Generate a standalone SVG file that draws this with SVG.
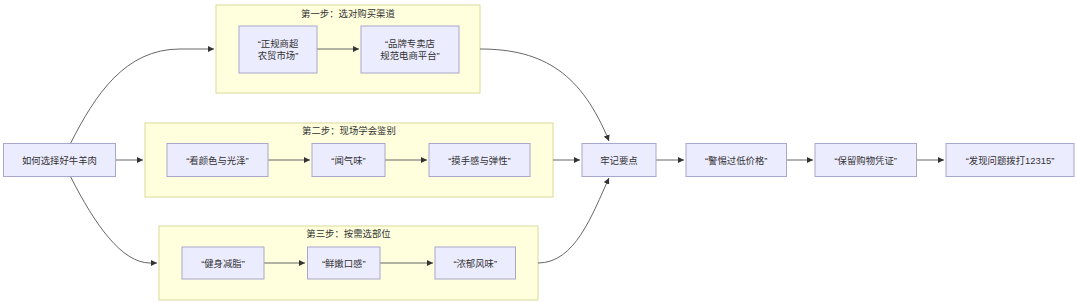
<svg xmlns="http://www.w3.org/2000/svg" width="1078" height="303" viewBox="0 0 1078 303">
<style>
.bg{fill:#ffffff}
.cl rect{fill:#ffffde;stroke:#d9d99a;stroke-width:1}
.nd rect{fill:#ececff;stroke:#a8a8cc;stroke-width:1}
text{font-family:"Liberation Sans","Noto Sans CJK SC",sans-serif;font-size:9.4px;fill:#333;text-anchor:middle;dominant-baseline:central}
.ed path{fill:none;stroke:#555;stroke-width:0.9;marker-end:url(#ah)}
</style>
<defs>
<marker id="ah" viewBox="0 0 10 10" refX="10" refY="5" markerWidth="6" markerHeight="6" markerUnits="userSpaceOnUse" orient="auto">
<path d="M0,0 L10,5 L0,10 z" fill="#333"/>
</marker>
</defs>
<rect class="bg" x="0" y="0" width="1078" height="303"/>
<g id="cluster1" class="cl"><rect x="216" y="5" width="264" height="88"/><text x="348" y="13">第一步：选对购买渠道</text></g>
<g id="cluster2" class="cl"><rect x="145" y="123" width="408" height="74"/><text x="349" y="130">第二步：现场学会鉴别</text></g>
<g id="cluster3" class="cl"><rect x="159" y="226" width="379" height="74"/><text x="348.5" y="233">第三步：按需选部位</text></g>
<g id="edges" class="ed">
<path d="M70.5,143.5 C95,95 125,49 180,49 L214,49"/>
<path d="M116,160 L143,160"/>
<path d="M70.5,176.5 C95,225 122,263 150,263 L157,263"/>
<path d="M317,49 L359,49"/>
<path d="M480,49 C545,49 582,75 609,141"/>
<path d="M268,160 L310,160"/>
<path d="M385,160 L427,160"/>
<path d="M264,263 L305,263"/>
<path d="M380,263 L433,263"/>
<path d="M553,160 L580,160"/>
<path d="M538,263 C575,263 592,215 609,178"/>
<path d="M656,160 L684,160"/>
<path d="M786,160 L813,160"/>
<path d="M917,160 L944,160"/>
</g>
<g id="start" class="nd"><rect x="3.5" y="143.5" width="112" height="33"/><text x="59.5" y="160">如何选择好牛羊肉</text></g>
<g id="n1a" class="nd"><rect x="239" y="26" width="78" height="47"/><text x="278" y="43">“正规商超</text><text x="278" y="55">农贸市场”</text></g>
<g id="n1b" class="nd"><rect x="361" y="26" width="98" height="47"/><text x="410" y="43">“品牌专卖店</text><text x="410" y="55">规范电商平台”</text></g>
<g id="n2a" class="nd"><rect x="167" y="143.5" width="101" height="33"/><text x="217.5" y="160">“看颜色与光泽”</text></g>
<g id="n2b" class="nd"><rect x="312" y="143.5" width="73" height="33"/><text x="348.5" y="160">“闻气味”</text></g>
<g id="n2c" class="nd"><rect x="429" y="143.5" width="101" height="33"/><text x="479.5" y="160">“摸手感与弹性”</text></g>
<g id="n3a" class="nd"><rect x="182" y="247" width="82" height="32"/><text x="223" y="263">“健身减脂”</text></g>
<g id="n3b" class="nd"><rect x="307.5" y="247" width="72.5" height="32"/><text x="343.75" y="263">“鲜嫩口感”</text></g>
<g id="n3c" class="nd"><rect x="435" y="247" width="80.5" height="32"/><text x="475.25" y="263">“浓郁风味”</text></g>
<g id="key" class="nd"><rect x="582" y="143.5" width="74" height="33"/><text x="619" y="160">牢记要点</text></g>
<g id="p1" class="nd"><rect x="686" y="143.5" width="100.5" height="33"/><text x="736.25" y="160">“警惕过低价格”</text></g>
<g id="p2" class="nd"><rect x="815" y="143.5" width="101.5" height="33"/><text x="865.75" y="160">“保留购物凭证”</text></g>
<g id="p3" class="nd"><rect x="946" y="143.5" width="128" height="33"/><text x="1010" y="160">“发现问题拨打12315”</text></g>
</svg>
